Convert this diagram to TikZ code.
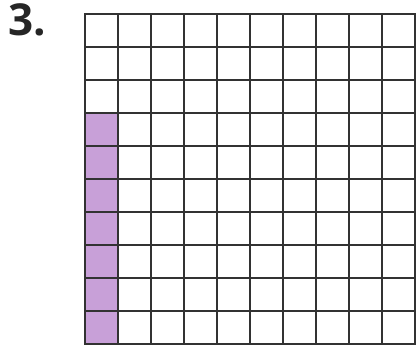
\documentclass[tikz,border=0pt]{standalone}
\usepackage{fontspec}
\setmainfont{Open Sans}
\definecolor{shade}{RGB}{200,160,216}
\definecolor{gridline}{RGB}{50,50,50}
\begin{document}
\begin{tikzpicture}[x=1pt,y=-1pt,
  cellfill/.style={fill=shade},
  gridstyle/.style={draw=gridline,line width=2.2pt},
  label/.style={font=\fontsize{44}{44}\selectfont\bfseries,text=black!85,inner sep=0pt,anchor=north west}]
\useasboundingbox (0,0) rectangle (419,353);
\foreach \r in {3,...,9}{
  \fill[cellfill] (85,{14+33*\r}) rectangle (118,{14+33*(\r+1)});
}
\foreach \i in {0,...,10}{
  \draw[gridstyle] ({85+33*\i},14) -- ({85+33*\i},344);
  \draw[gridstyle] (85,{14+33*\i}) -- (415,{14+33*\i});
}
\draw[gridstyle,line cap=rect] (85,14) rectangle (415,344);
\node[label] (num) at (8,3) {3.};
\end{tikzpicture}
\end{document}
